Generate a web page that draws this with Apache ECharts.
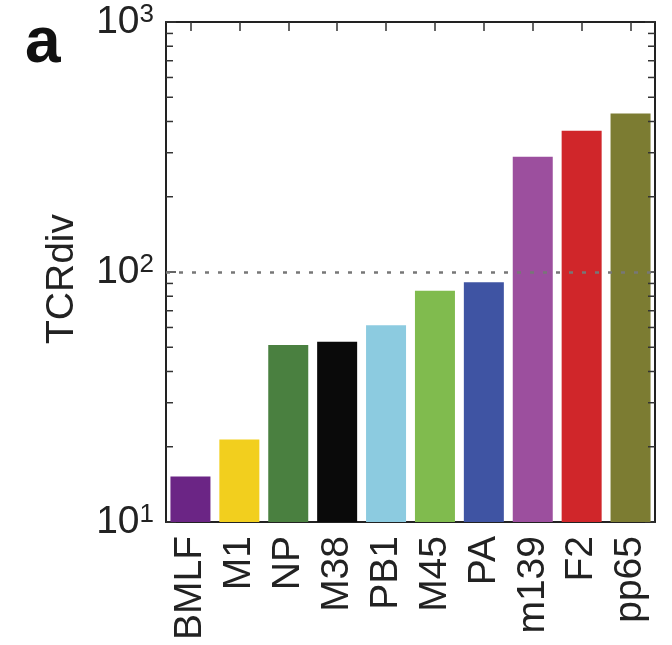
<!DOCTYPE html>
<html>
<head>
<meta charset="utf-8">
<script src="https://cdn.jsdelivr.net/npm/echarts@6/dist/echarts.min.js"></script>
<style>
html,body{margin:0;padding:0;background:#fff;}
#chart{width:672px;height:645px;}
</style>
</head>
<body>
<div id="chart"></div>
<script>
// ---- data ----
const categories = ['BMLF','M1','NP','M38','PB1','M45','PA','m139','F2','pp65'];
const values = [15.2, 21.4, 51.1, 52.6, 61.2, 84.2, 90.9, 289, 367, 431];
const barColors = ['#6b2585','#f2cf1e','#4a8040','#0a0a0a','#8ccbe0','#80bb4e','#3f54a3','#9c4f9e','#d0262a','#7c7c32'];
const yTickValues = [10, 100, 1000];
const minorTickValues = [20,30,40,50,60,70,80,90,200,300,400,500,600,700,800,900];
const referenceLine = 100;
const yLabel = 'TCRdiv';
const panelLetter = 'a';

const FONT = 'Liberation Sans, Arial, Helvetica, sans-serif';
const chart = echarts.init(document.getElementById('chart'), null, {renderer: 'canvas'});

const axisLineStyle = {show: true, lineStyle: {color: '#222', width: 2}};

const option = {
  animation: false,
  backgroundColor: '#fff',
  grid: {left: 166, right: 17, top: 22, bottom: 123, containLabel: false},
  xAxis: [
    {
      type: 'category', data: categories, position: 'bottom',
      axisLine: axisLineStyle,
      axisTick: {show: true, inside: true, alignWithLabel: true, interval: 0, length: 9, lineStyle: {color: '#333', width: 1.5}},
      axisLabel: {rotate: 90, interval: 0, margin: 14, fontSize: 39, color: '#222', fontFamily: FONT},
      splitLine: {show: false}
    },
    {
      type: 'category', data: categories, position: 'top',
      axisLine: axisLineStyle,
      axisTick: {show: true, inside: true, alignWithLabel: true, interval: 0, length: 9, lineStyle: {color: '#333', width: 1.5}},
      axisLabel: {show: false},
      splitLine: {show: false}
    }
  ],
  yAxis: [
    {
      type: 'log', logBase: 10, min: 10, max: 1000, position: 'left',
      axisLine: axisLineStyle,
      axisTick: {show: true, inside: true, length: 10, lineStyle: {color: '#333', width: 1.5}},
      splitLine: {show: false},
      minorTick: {show: false},
      axisLabel: {
        margin: 12, color: '#222', fontFamily: FONT,
        formatter: function (v) {
          if (yTickValues.indexOf(Math.round(v)) < 0) return '';
          return '{b|10}{s|' + Math.round(Math.log10(v)) + '}';
        },
        rich: {
          b: {fontSize: 39, fontFamily: FONT, color: '#222', lineHeight: 40},
          s: {fontSize: 26, fontFamily: FONT, color: '#222', lineHeight: 25, verticalAlign: 'top'}
        }
      }
    },
    {
      type: 'log', logBase: 10, min: 10, max: 1000, position: 'right',
      axisLine: axisLineStyle,
      axisTick: {show: true, inside: true, length: 10, lineStyle: {color: '#333', width: 1.5}},
      splitLine: {show: false},
      axisLabel: {show: false}
    }
  ],
  series: [
    {
      type: 'bar',
      xAxisIndex: 0, yAxisIndex: 0,
      data: values.map((v, i) => ({value: v, itemStyle: {color: barColors[i]}})),
      barWidth: 40,
      z: 2,
      markLine: {
        silent: true, symbol: 'none', animation: false,
        label: {show: false},
        lineStyle: {type: [4, 9], color: '#777', width: 2.5},
        data: [{yAxis: referenceLine}],
        z: 5
      }
    },
    {
      type: 'custom',
      xAxisIndex: 0, yAxisIndex: 0,
      clip: false, z: 6, silent: true,
      data: minorTickValues.map(v => [0, v]),
      encode: {x: 0, y: 1},
      renderItem: function (params, api) {
        const cs = params.coordSys;
        const y = api.coord([0, api.value(1)])[1];
        const len = 7;
        const style = {stroke: '#333', lineWidth: 1.5};
        return {
          type: 'group',
          children: [
            {type: 'line', shape: {x1: cs.x, y1: y, x2: cs.x + len, y2: y}, style: style},
            {type: 'line', shape: {x1: cs.x + cs.width - len, y1: y, x2: cs.x + cs.width, y2: y}, style: style}
          ]
        };
      }
    }
  ],
  graphic: [
    {
      type: 'text', left: 25, top: 12,
      style: {text: panelLetter, fontSize: 64, fontWeight: 'bold', fontFamily: FONT, fill: '#111'}
    },
    {
      type: 'text', x: 62, y: 279, rotation: Math.PI / 2,
      style: {text: yLabel, fontSize: 39, fontFamily: FONT, fill: '#222', align: 'center', verticalAlign: 'middle'}
    }
  ]
};
chart.setOption(option);
</script>
</body>
</html>
